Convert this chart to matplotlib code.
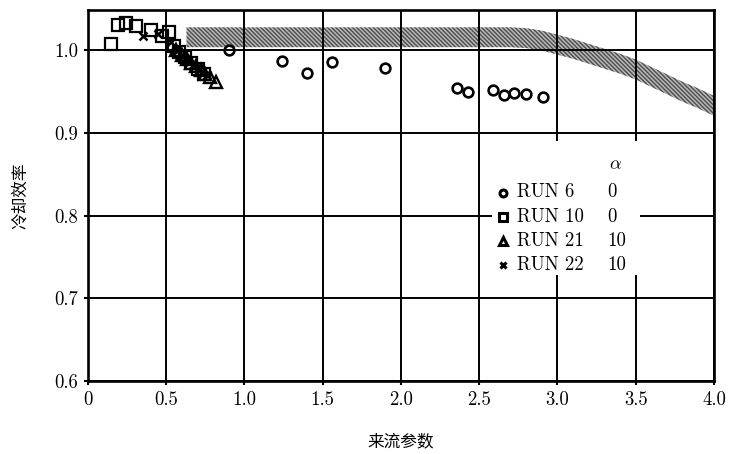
import matplotlib
matplotlib.use("Agg")
import matplotlib.pyplot as plt
from matplotlib.patches import Rectangle

plt.rcParams["mathtext.fontset"] = "cm"
plt.rcParams["axes.formatter.use_mathtext"] = True
plt.rcParams["hatch.linewidth"] = 1.0

# ---- data ----
run6_x = [0.56, 0.62, 0.90, 1.24, 1.40, 1.56, 1.90, 2.36, 2.43, 2.59, 2.66, 2.72, 2.80, 2.91]
run6_y = [0.998, 0.990, 1.000, 0.987, 0.973, 0.986, 0.979, 0.954, 0.950, 0.952, 0.946, 0.948, 0.947, 0.944]

run10_x = [0.15, 0.19, 0.24, 0.31, 0.40, 0.47, 0.52, 0.55, 0.58, 0.62, 0.66, 0.70, 0.74]
run10_y = [1.008, 1.031, 1.033, 1.030, 1.025, 1.018, 1.022, 1.005, 0.998, 0.992, 0.985, 0.978, 0.972]

run21_x = [0.56, 0.60, 0.63, 0.66, 0.69, 0.72, 0.75, 0.78, 0.82]
run21_y = [1.000, 0.994, 0.990, 0.985, 0.981, 0.976, 0.972, 0.968, 0.962]

run22_x = [0.35, 0.45, 0.53, 0.57, 0.61, 0.64, 0.67, 0.70, 0.73, 0.76]
run22_y = [1.017, 1.020, 1.010, 0.999, 0.993, 0.988, 0.983, 0.979, 0.974, 0.970]

# theoretical band (centre line and half width)
band_x = [0.63, 1.0, 1.5, 2.0, 2.5, 2.7, 2.8, 2.9, 3.0, 3.1, 3.2, 3.3, 3.4, 3.5,
          3.6, 3.7, 3.8, 3.9, 4.0]
band_y = [1.016, 1.016, 1.016, 1.016, 1.016, 1.016, 1.015, 1.012, 1.007, 1.002, 0.996,
          0.990, 0.984, 0.977, 0.968, 0.959, 0.950, 0.942, 0.933]
band_half = 0.012

legend_runs = ["RUN 6", "RUN 10", "RUN 21", "RUN 22"]
legend_alpha = ["0", "0", "10", "10"]

x_ticks = [0, 0.5, 1.0, 1.5, 2.0, 2.5, 3.0, 3.5, 4.0]
x_ticklabels = ["0", "0.5", "1.0", "1.5", "2.0", "2.5", "3.0", "3.5", "4.0"]
y_ticks = [0.6, 0.7, 0.8, 0.9, 1.0]
y_ticklabels = ["0.6", "0.7", "0.8", "0.9", "1.0"]

x_label = "来流参数"
y_label = "冷却效率"

# ---- figure ----
fig = plt.figure(figsize=(7.30, 4.54), dpi=100)
ax = fig.add_axes([0.1205, 0.1608, 0.8575, 0.8172])
ax.set_xlim(0, 4.0)
ax.set_ylim(0.6, 1.049)

serif = "cmr10"

# hatched band
lo = [c - band_half for c in band_y]
hi = [c + band_half for c in band_y]
ax.fill_between(band_x, lo, hi, facecolor="#b8b8b8", edgecolor="#4c4c4c",
                hatch="\\\\\\\\\\\\\\\\", linewidth=0, zorder=1)

# grid above the band
ax.set_axisbelow(False)
ax.grid(True, color="black", linewidth=1.4)

mk = dict(linestyle="none", color="black", markerfacecolor="none", zorder=3)
ax.plot(run6_x, run6_y, marker="o", markersize=7, markeredgewidth=1.9, **mk)
ax.plot(run10_x, run10_y, marker="s", markersize=8.5, markeredgewidth=1.6, **mk)
ax.plot(run21_x, run21_y, marker="^", markersize=8, markeredgewidth=1.7, **mk)
ax.plot(run22_x, run22_y, marker="x", markersize=6, markeredgewidth=1.8,
        linestyle="none", color="black", zorder=3)

ax.set_xticks(x_ticks)
ax.set_xticklabels(x_ticklabels, family=serif, fontsize=13.5)
ax.set_yticks(y_ticks)
ax.set_yticklabels(y_ticklabels, family=serif, fontsize=13.5)
ax.tick_params(direction="out", length=3, width=1.5, pad=4)
for s in ax.spines.values():
    s.set_linewidth(1.9)

ax.set_xlabel(x_label, family="Noto Sans CJK SC", fontsize=12, labelpad=18)
ax.set_ylabel(y_label, family="Noto Sans CJK SC", fontsize=12, labelpad=18)

# legend table with alpha column
ax.add_patch(Rectangle((0.645, 0.286), 0.237, 0.36, transform=ax.transAxes,
                       facecolor="white", edgecolor="none", zorder=4))
row_y = [0.508, 0.443, 0.378, 0.313]
ax.text(0.832, 0.585, r"$\alpha$", transform=ax.transAxes, fontsize=13,
        ha="left", va="center", zorder=5)
leg_markers = [("o", 5, "none"), ("s", 5.5, "none"), ("^", 5.5, "none"), ("x", 4.5, "black")]
for yy, name, al, (m, ms, fc) in zip(row_y, legend_runs, legend_alpha, leg_markers):
    ax.plot([0.663], [yy], marker=m, markersize=ms, markeredgewidth=2.2,
            markerfacecolor=fc, color="black", transform=ax.transAxes,
            clip_on=False, zorder=5, linestyle="none")
    ax.text(0.686, yy, name, transform=ax.transAxes, family=serif, fontsize=13.5,
            ha="left", va="center", zorder=5)
    ax.text(0.829, yy, al, transform=ax.transAxes, family=serif, fontsize=13.5,
            ha="left", va="center", zorder=5)

fig.savefig("out.png", dpi=100)
